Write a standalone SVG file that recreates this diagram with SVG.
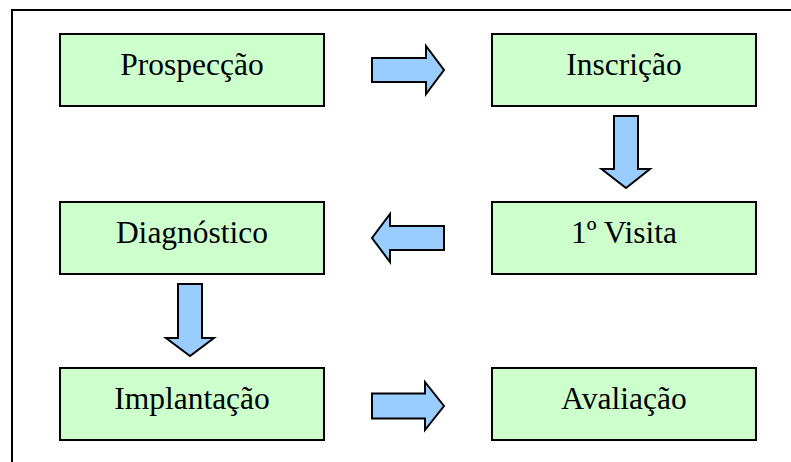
<svg xmlns="http://www.w3.org/2000/svg" width="791" height="462" viewBox="0 0 791 462">
<style>
.box{fill:#CCFFCC;stroke:#000;stroke-width:2}
.lbl{font-family:"Liberation Serif","Times New Roman",serif;font-size:31.5px;fill:#000;text-anchor:middle}
.arr{fill:#99CCFF;stroke:#000;stroke-width:2;stroke-linejoin:miter}
.frame{fill:none;stroke:#000;stroke-width:2}
</style>
<rect width="791" height="462" fill="#fff"/>
<path class="frame" d="M12,462 V10 H791"/>
<g id="n1"><rect class="box" x="60" y="34" width="264" height="72"/><text class="lbl" x="192" y="75">Prospecção</text></g>
<g id="n2"><rect class="box" x="492" y="34" width="264" height="72"/><text class="lbl" x="624" y="75">Inscrição</text></g>
<g id="n3"><rect class="box" x="492" y="202" width="264" height="72"/><text class="lbl" x="624" y="243">1º Visita</text></g>
<g id="n4"><rect class="box" x="60" y="202" width="264" height="72"/><text class="lbl" x="192" y="243">Diagnóstico</text></g>
<g id="n5"><rect class="box" x="60" y="368" width="264" height="72"/><text class="lbl" x="192" y="409">Implantação</text></g>
<g id="n6"><rect class="box" x="492" y="368" width="264" height="72"/><text class="lbl" x="624" y="409">Avaliação</text></g>
<g id="connectors">
<path class="arr" d="M372,58 H426 V46 L444,70 L426,94 V82 H372 Z"/>
<path class="arr" d="M614,116 V169 H601.5 L626,188 L650,169 H638 V116 Z"/>
<path class="arr" d="M444,226 H390 V214 L372,238 L390,262 V250 H444 Z"/>
<path class="arr" d="M178,284 V338 H166 L190,356 L214,338 H202 V284 Z"/>
<path class="arr" d="M372,393.5 H425 V382 L444,406 L425,430 V418.5 H372 Z"/>
</g>
</svg>
